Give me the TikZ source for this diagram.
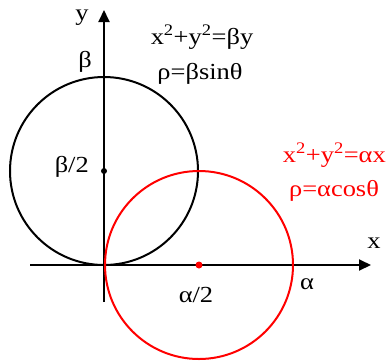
\documentclass[tikz,border=0pt]{standalone}
\usepackage{fontspec}
\setmainfont[FakeStretch=1.15]{Liberation Serif}
\usetikzlibrary{arrows.meta,positioning}

\begin{document}
\begin{tikzpicture}[
    x=1pt, y=-1pt,
    axis/.style={line width=2pt, -{Triangle[length=12pt,width=11pt]}},
    curve/.style={line width=2pt},
    lbl/.style={font=\fontsize{23}{25}\selectfont, inner sep=0pt}
]
    \useasboundingbox (0,0) rectangle (388,360);

    % Origin and axis ends
    \coordinate (O) at (104,265);
    \coordinate (xs) at (30,265);
    \coordinate (xe) at (371,265);
    \coordinate (ys) at (104,302);
    \coordinate (ye) at (104,10);

    % Axes
    \draw[axis] (xs) -- (xe);
    \draw[axis] (ys) -- (ye);
    \node[lbl] (xlab) at (374,243) {x};
    \node[lbl] (ylab) at (82,18) {y};

    % Circle x^2+y^2 = beta y
    \coordinate (cb) at (104,171);
    \draw[curve] (cb) circle (94);
    \fill (cb) circle (3);
    \node[lbl] (beta) at (85,62) {β};
    \node[lbl, anchor=east] (bhalf) at (89,167) {β/2};
    \node[lbl] (eqb) at (202,37) {x\textsuperscript{2}+y\textsuperscript{2}=βy};
    \node[lbl] (polb) at (200,74) {ρ=βsinθ};

    % Circle x^2+y^2 = alpha x
    \coordinate (ca) at (199,265);
    \draw[curve, red] (ca) circle (94);
    \fill[red] (ca) circle (3.5);
    \node[lbl] (alpha) at (307,284) {α};
    \node[lbl] (ahalf) at (196,295) {α/2};
    \node[lbl, text=red, anchor=east] (eqa) at (386,155) {x\textsuperscript{2}+y\textsuperscript{2}=αx};
    \node[lbl, text=red] (pola) at (334,191) {ρ=αcosθ};
\end{tikzpicture}
\end{document}
